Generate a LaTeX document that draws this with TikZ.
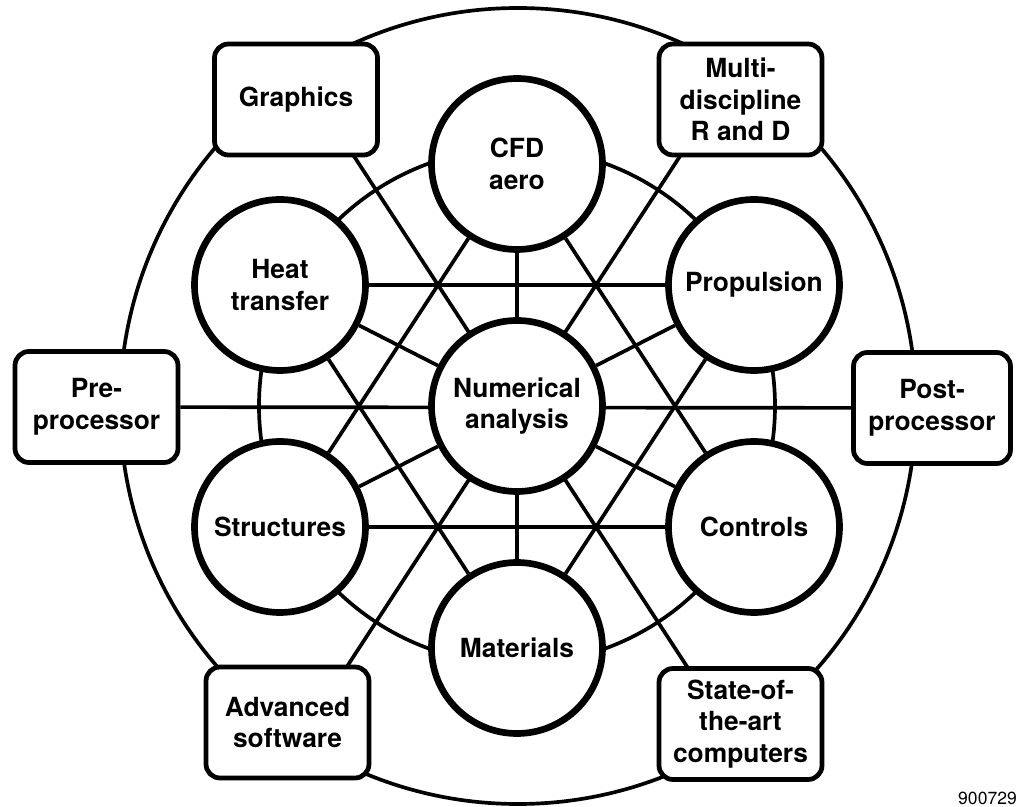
\documentclass[tikz,border=0pt]{standalone}
\usepackage{fontspec}
\setmainfont{TeX Gyre Heros}
\usetikzlibrary{backgrounds}

\begin{document}
\begin{tikzpicture}[
    disc/.style={circle, draw, line width=3.8pt, fill=white, minimum size=3.42cm,
       inner sep=0pt, align=center, font=\bfseries\fontsize{15}{18}\selectfont},
    tile/.style={rectangle, rounded corners=0.28cm, draw, line width=2.7pt, fill=white,
       minimum width=3.26cm, minimum height=2.22cm, inner sep=0pt, align=center,
       font=\bfseries\fontsize{15}{18}\selectfont},
    link/.style={line width=2.1pt}
  ]
  \useasboundingbox (-10.34,-8.02) rectangle (9.98,8.12);
  % Disciplines
  \node[disc] (num) at (0,0) {Numerical\\analysis};
  \node[disc] (cfd) at (0,4.84) {CFD\\aero};
  \node[disc] (mat) at (0,-4.84) {Materials};
  \node[disc] (heat) at (-4.74,2.42) {Heat\\transfer};
  \node[disc] (prop) at (4.74,2.42) {Propulsion};
  \node[disc] (struct) at (-4.74,-2.42) {Structures};
  \node[disc] (ctrl) at (4.74,-2.42) {Controls};
  % Tools on the outer ring
  \node[tile] (graphics) at (-4.42,6.13) {Graphics};
  \node[tile] (multi) at (4.47,6.13) {Multi-\\discipline\\R and D};
  \node[tile] (pre) at (-8.41,-0.02) {Pre-\\processor};
  \node[tile, minimum width=3.14cm] (post) at (8.30,-0.04) {Post-\\processor};
  \node[tile] (adv) at (-4.59,-6.33) {Advanced\\software};
  \node[tile] (state) at (4.47,-6.36) {State-of-\\the-art\\computers};
  \node[anchor=base west, font=\fontsize{10}{12}\selectfont] (tag) at (8.70,-7.96) {900729};
  \begin{pgfonlayer}{background}
    % Rings
    \draw[link] (0.02,0) circle (7.96);
    \draw[link] (num.center) circle (5.16);
    % Lines through the centre
    \draw[link] (pre) -- (post);
    \draw[link] ([xshift=4.2mm]graphics.center) -- ([xshift=-3.2mm]state.center);
    \draw[link] ([xshift=-4.7mm]multi.center) -- ([xshift=4.6mm]adv.center);
    % Star
    \draw[link] (heat) -- (prop);
    \draw[link] (struct) -- (ctrl);
    \draw[link] (cfd) -- (struct);
    \draw[link] (cfd) -- (ctrl);
    \draw[link] (heat) -- (mat);
    \draw[link] (prop) -- (mat);
    % Spokes
    \foreach \n in {cfd,prop,ctrl,mat,struct,heat}
      \draw[link] (num) -- (\n);
  \end{pgfonlayer}
\end{tikzpicture}
\end{document}
